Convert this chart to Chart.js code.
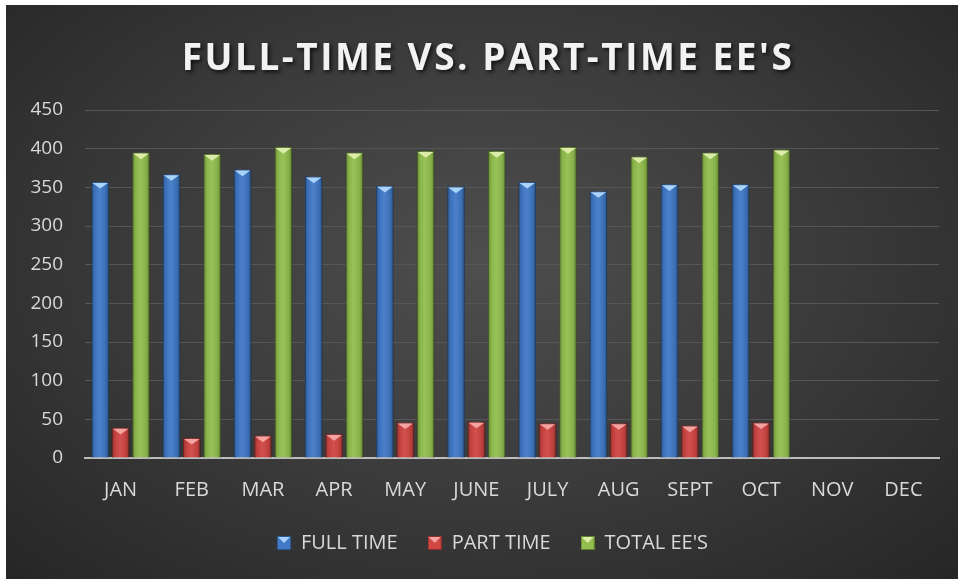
<!DOCTYPE html>
<html>
<head>
  <title>Full-Time vs. Part-Time EE's</title>
  <script type="text/javascript" src="https://cdn.jsdelivr.net/npm/chart.js"></script>
  <style>
    body { margin: 0; background: #ffffff; }
    #chart-box {
      position: absolute; left: 6px; top: 5px; width: 952px; height: 574px;
      background: radial-gradient(ellipse at 50% 45%, #4e4e4e 0%, #3b3b3b 50%, #262626 100%);
    }
  </style>
</head>
<body>
  <div id="chart-box"><canvas id="ee-chart"></canvas></div>

  <script type="text/javascript">
    const months = ["JAN", "FEB", "MAR", "APR", "MAY", "JUNE", "JULY", "AUG", "SEPT", "OCT", "NOV", "DEC"];
    const fullTime = [357, 367, 373, 364, 352, 351, 357, 345, 354, 354, null, null];
    const partTime = [39, 26, 29, 31, 46, 47, 45, 45, 42, 46, null, null];
    const totalEEs = [395, 393, 402, 395, 397, 397, 402, 390, 395, 399, null, null];
    const yTicks = [0, 50, 100, 150, 200, 250, 300, 350, 400, 450];
    const chartTitle = "FULL-TIME VS. PART-TIME EE'S";

    const FONT = "'Open Sans', 'DejaVu Sans', sans-serif";

    // small legend swatch: square with a light triangle on top
    function swatch(fill, edge, cap) {
        const c = document.createElement('canvas');
        c.width = 14; c.height = 14;
        const g = c.getContext('2d');
        g.fillStyle = fill;
        g.fillRect(0, 0, 14, 14);
        g.strokeStyle = edge;
        g.strokeRect(0.5, 0.5, 13, 13);
        g.fillStyle = cap;
        g.beginPath();
        g.moveTo(1, 1); g.lineTo(13, 1); g.lineTo(7, 7);
        g.closePath(); g.fill();
        return c;
    }

    const caps = ['#a9d3fb', '#f4a3a1', '#dcedaa'];

    // cylinder shading + light triangle "bevel" on top of each bar
    const capPlugin = {
        id: 'caps',
        afterLayout(chart) {
            // legend sits a bit right of centre in the original
            chart.legend.left += 20;
            chart.legend.right += 20;
        },
        afterDatasetsDraw(chart) {
            const ctx = chart.ctx;
            chart.data.datasets.forEach((ds, i) => {
                const meta = chart.getDatasetMeta(i);
                meta.data.forEach((bar, j) => {
                    if (ds.data[j] === null) return;
                    const w = bar.width;
                    const left = bar.x - w / 2;
                    ctx.save();
                    const shade = ctx.createLinearGradient(left, 0, left + w, 0);
                    shade.addColorStop(0, 'rgba(0,0,0,0.28)');
                    shade.addColorStop(0.2, 'rgba(0,0,0,0.05)');
                    shade.addColorStop(0.45, 'rgba(255,255,255,0.06)');
                    shade.addColorStop(0.8, 'rgba(0,0,0,0.08)');
                    shade.addColorStop(1, 'rgba(0,0,0,0.32)');
                    ctx.fillStyle = shade;
                    ctx.fillRect(left, bar.y, w, bar.base - bar.y);
                    ctx.fillStyle = caps[i];
                    ctx.beginPath();
                    ctx.moveTo(left + 1, bar.y + 1);
                    ctx.lineTo(left + w - 1, bar.y + 1);
                    ctx.lineTo(bar.x, bar.y + w * 0.38);
                    ctx.closePath();
                    ctx.fill();
                    ctx.restore();
                });
            });
        }
    };

    // spaced-out title with a drop shadow
    const titlePlugin = {
        id: 'spacedTitle',
        afterDraw(chart) {
            const ctx = chart.ctx;
            ctx.save();
            ctx.font = "bold 37px " + FONT;
            ctx.letterSpacing = '2.5px';
            ctx.fillStyle = '#f2f2f2';
            ctx.textAlign = 'center';
            ctx.textBaseline = 'middle';
            ctx.shadowColor = 'rgba(0,0,0,0.75)';
            ctx.shadowBlur = 4;
            ctx.shadowOffsetX = 2;
            ctx.shadowOffsetY = 2;
            ctx.fillText(chartTitle, chart.width / 2 + 6, 54);
            ctx.restore();
        }
    };

    const ctx = document.getElementById('ee-chart');
    new Chart(ctx, {
        type: 'bar',
        data: {
            labels: months,
            datasets: [
                {
                    label: 'FULL TIME', data: fullTime,
                    backgroundColor: '#4079c6', borderColor: '#2c5891', borderWidth: 1,
                    pointStyle: swatch('#4079c6', '#2c5891', caps[0])
                },
                {
                    label: 'PART TIME', data: partTime,
                    backgroundColor: '#cf4643', borderColor: '#8f2d2b', borderWidth: 1,
                    pointStyle: swatch('#cf4643', '#8f2d2b', caps[1])
                },
                {
                    label: "TOTAL EE'S", data: totalEEs,
                    backgroundColor: '#92bf4e', borderColor: '#5f7f31', borderWidth: 1,
                    pointStyle: swatch('#92bf4e', '#5f7f31', caps[2])
                }
            ]
        },
        options: {
            responsive: true,
            maintainAspectRatio: false,
            animation: false,
            categoryPercentage: 0.86,
            barPercentage: 0.86,
            layout: { padding: { left: 0, right: 19, top: 105, bottom: 16 } },
            scales: {
                x: {
                    afterFit: axis => { axis.height = 45; },
                    grid: { display: false, drawTicks: false },
                    border: { color: '#bdbdbd', width: 2 },
                    ticks: { color: '#d9d9d9', font: { family: FONT, size: 20 }, padding: 20 }
                },
                y: {
                    min: 0, max: 450,
                    afterBuildTicks: axis => { axis.ticks = yTicks.map(v => ({ value: v })); },
                    afterFit: axis => { axis.width = 79; },
                    grid: { color: '#565656', lineWidth: 1, drawTicks: false },
                    border: { display: false },
                    ticks: { color: '#d9d9d9', font: { family: FONT, size: 19 }, padding: 22 }
                }
            },
            plugins: {
                title: { display: false },
                legend: {
                    position: 'bottom',
                    labels: {
                        usePointStyle: true,
                        color: '#d9d9d9',
                        font: { family: FONT, size: 20 },
                        boxWidth: 14, boxHeight: 14,
                        padding: 30
                    }
                },
                tooltip: { enabled: false }
            }
        },
        plugins: [capPlugin, titlePlugin]
    });
  </script>
</body>
</html>
